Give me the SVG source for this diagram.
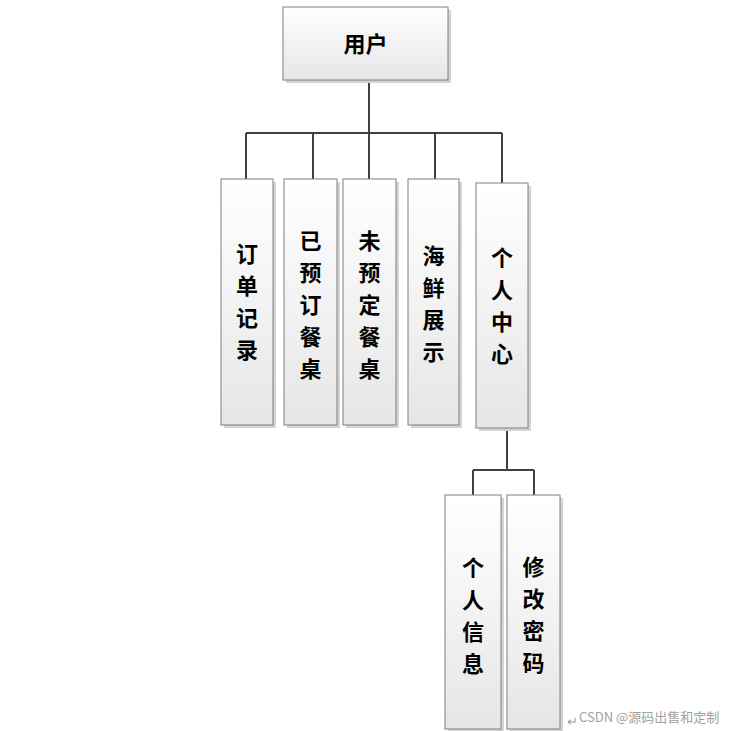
<svg xmlns="http://www.w3.org/2000/svg" width="731" height="731" viewBox="0 0 731 731">
<defs>
<linearGradient id="g" x1="0" y1="0" x2="0" y2="1">
<stop offset="0" stop-color="#ffffff"/>
<stop offset="1" stop-color="#e6e6e6"/>
</linearGradient>
</defs>
<style>
.box{fill:url(#g);stroke:#7f7f7f;stroke-width:1}
.sh{fill:#d4d4d4}
.t{font-family:"Noto Sans CJK SC","Liberation Sans",sans-serif;font-size:22px;font-weight:700;fill:#000;text-anchor:middle;dominant-baseline:central}
.c{fill:none;stroke:#404040;stroke-width:2}
.wm{font-family:"Noto Sans CJK SC","Liberation Sans",sans-serif;font-size:13px;fill:#a0a0a0}
</style>
<rect width="731" height="731" fill="#fff"/>
<g id="connectors">
<path class="c" d="M369 80V133M246 133H502M246 133V179M313 133V179M369 133V179M435 133V179M502 133V183"/>
<path class="c" d="M507 428V470M473 470H534M473 470V495M534 470V495"/>
</g>
<g id="n-user">
<rect class="sh" x="286" y="10" width="165" height="73"/>
<rect class="box" x="283" y="7" width="165" height="73"/>
<text class="t" x="365.5" y="42" font-size="23">用户</text>
</g>
<g id="n-order">
<rect class="sh" x="224" y="182" width="52" height="246"/>
<rect class="box" x="221" y="179" width="52" height="246"/>
<text class="t" x="247" y="252">订</text><text class="t" x="247" y="284">单</text><text class="t" x="247" y="316">记</text><text class="t" x="247" y="348">录</text>
</g>
<g id="n-booked">
<rect class="sh" x="287" y="182" width="53" height="246"/>
<rect class="box" x="284" y="179" width="53" height="246"/>
<text class="t" x="310.5" y="239">已</text><text class="t" x="310.5" y="271">预</text><text class="t" x="310.5" y="303">订</text><text class="t" x="310.5" y="335">餐</text><text class="t" x="310.5" y="367">桌</text>
</g>
<g id="n-unbooked">
<rect class="sh" x="346" y="182" width="53" height="246"/>
<rect class="box" x="343" y="179" width="53" height="246"/>
<text class="t" x="369.5" y="239">未</text><text class="t" x="369.5" y="271">预</text><text class="t" x="369.5" y="303">定</text><text class="t" x="369.5" y="335">餐</text><text class="t" x="369.5" y="367">桌</text>
</g>
<g id="n-seafood">
<rect class="sh" x="411" y="182" width="51" height="246"/>
<rect class="box" x="408" y="179" width="51" height="246"/>
<text class="t" x="433.5" y="254">海</text><text class="t" x="433.5" y="286">鲜</text><text class="t" x="433.5" y="318">展</text><text class="t" x="433.5" y="350">示</text>
</g>
<g id="n-center">
<rect class="sh" x="479" y="186" width="52" height="245"/>
<rect class="box" x="476" y="183" width="52" height="245"/>
<text class="t" x="502" y="256">个</text><text class="t" x="502" y="288">人</text><text class="t" x="502" y="320">中</text><text class="t" x="502" y="352">心</text>
</g>
<g id="n-info">
<rect class="sh" x="448" y="498" width="56" height="234"/>
<rect class="box" x="445" y="495" width="56" height="234"/>
<text class="t" x="473" y="566">个</text><text class="t" x="473" y="598">人</text><text class="t" x="473" y="630">信</text><text class="t" x="473" y="662">息</text>
</g>
<g id="n-pwd">
<rect class="sh" x="510" y="498" width="53" height="234"/>
<rect class="box" x="507" y="495" width="53" height="234"/>
<text class="t" x="533.5" y="565">修</text><text class="t" x="533.5" y="597">改</text><text class="t" x="533.5" y="629">密</text><text class="t" x="533.5" y="661">码</text>
</g>
<text class="wm" x="567" y="726" font-size="11">↵</text>
<text class="wm" x="579" y="722">CSDN @源码出售和定制</text>
</svg>
